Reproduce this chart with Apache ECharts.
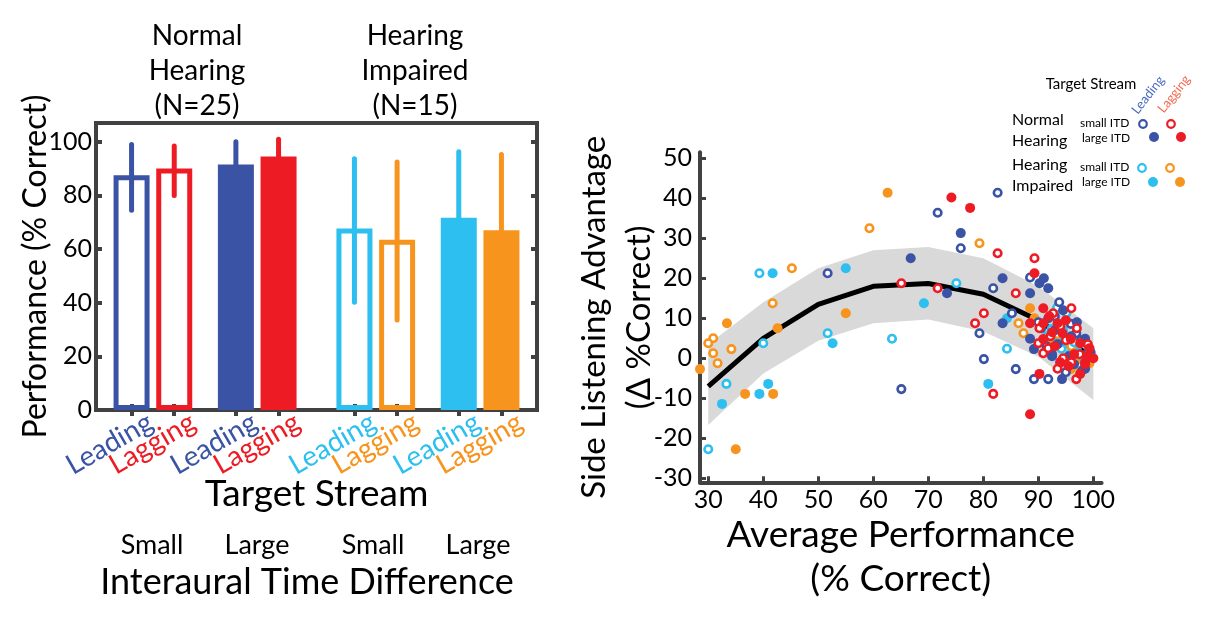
<!DOCTYPE html>
<html><head><meta charset="utf-8">
<script src="https://cdn.jsdelivr.net/npm/echarts@6/dist/echarts.min.js"></script>
<style>html,body{margin:0;padding:0;background:#fff}#c{width:1221px;height:633px}</style>
</head><body><div id="c"></div>
<script>
// ---------- Left panel data ----------
const barCategories = ['Leading','Lagging','Leading','Lagging','Leading','Lagging','Leading','Lagging'];
const barFilled = [false,false,true,true,false,false,true,true];
const barMeans   = [87.5, 90, 91.5, 94.5, 67.7, 63.5, 71.7, 67];
const barErrLow  = [74.5, 80, 83, 88, 40.2, 33.6, 47, 38.7];
const barErrHigh = [99, 98.4, 100, 100.9, 93.7, 92.5, 96.3, 95.3];
const itdLabels = ['Small','Large','Small','Large'];
const leftYTicks = [0,20,40,60,80,100];

// ---------- Right panel data ----------
const curveX    = [30,40,50,60,70,80,90,100];
const curveMean = [-7,5,13.5,18,18.7,16,9.5,0];
const bandHigh  = [3.5,14,22.5,27,27.8,25,18,7.5];
const bandLow   = [-16.7,-3.8,4.4,8.75,9.7,6.7,0.4,-10.4];
const rightXTicks = [30,40,50,60,70,80,90,100];
const rightYTicks = [-30,-20,-10,0,10,20,30,40,50];

const nhSmallLeading = [[82.6,41.4],[71.7,36.4],[75.9,27.5],[51.7,21.25],[81.8,17.5],[85.2,11.25],[79.3,6.25],[80.1,-0.2],[85.9,-2.7],[65.1,-7.7],[88.5,20.2],[89.2,-5.2],[91.8,-5.2],[95.9,8.6],[96.9,6.25],[90,9],[91.5,3],[93,10.5],[94,-1],[97.8,4.5],[98,-3],[99,1.5],[92.5,0.5],[95,-3.5],[93.8,14]];
const nhSmallLagging = [[65.1,18.75],[71.7,17.5],[82.6,26.25],[89.3,25],[85.9,16.25],[80.1,11.25],[78.5,8.75],[81.8,-8.9],[96,12.5],[93.5,-2.6],[96.9,-5.2],[90.2,7.5],[90.9,1.25],[91.8,2.5],[92.7,11.25],[90,3.75],[94,8],[95,4.5],[97.5,1],[98.5,-1],[92.2,5.5],[96,-1],[99,3.5],[94.5,0],[97,7.5]];
const nhLargeLeading = [[66.8,25],[75.9,31.3],[73.4,16.25],[83.5,20],[83.5,8.75],[88.5,16.25],[88.5,4.9],[89.2,2.3],[90.2,18.75],[91,20],[91.8,17.5],[91.8,10],[94.3,-5.2],[98.5,4.9],[98.5,-2.6],[93,7],[94.5,12],[95.5,0.5],[96,5.5],[97,9],[99.5,1.5],[92.5,1],[90.5,7.5],[96.5,-1.5],[93.5,3.5]];
const nhLargeLagging = [[74.2,40.2],[77.6,37.6],[88.5,-14],[89.3,21.25],[90.9,12.5],[88.5,8.75],[90.9,8.75],[93.5,8.75],[90.9,4.8],[94.4,6.25],[95.9,4.8],[97.6,3.75],[99.3,2.5],[100,0],[90.2,-3.9],[97.6,-3.9],[92,10.5],[93,3],[95,9.5],[96.5,1],[98.5,-1.5],[94,-1],[92.5,6.5],[99,0.5],[95.5,-2]];
const hiSmallLeading = [[39.3,21.25],[40,3.75],[33.3,-6.4],[30,-22.75],[51.7,6.25],[63.4,4.9],[75.1,18.75],[84.3,2.4],[93.4,12.6],[95.1,11.3],[92.4,7.3],[94.2,2.4],[96.5,4],[98,0.5],[91.5,5.5]];
const hiSmallLagging = [[59.3,32.5],[79.3,28.75],[45.2,22.5],[41.7,13.75],[30.9,5],[30,3.75],[30.9,1.25],[31.7,-1.25],[34.2,2.3],[86.4,8.75],[87.3,6.25],[96,3],[97.5,-2],[93.5,6],[99,0.5]];
const hiLargeLeading = [[41.7,21.25],[55,22.5],[52.6,3.75],[32.5,-11.4],[39.3,-8.9],[40.9,-6.4],[69.2,13.75],[80.9,-6.4],[84.3,10],[93.5,4.9],[95.1,3.7],[95.9,1.25],[97,2],[94.5,7],[98.5,-1]];
const hiLargeLagging = [[62.6,41.4],[28.5,-2.7],[33.4,8.75],[42.6,7.5],[55,11.25],[36.7,-8.9],[41.8,-8.9],[35,-22.75],[88.5,12.5],[89.3,10],[92.5,3.75],[96.8,2.3],[97.6,0],[95.9,-2.7],[99.3,-1.25]];

// ---------- styles ----------
const BLUE='#3a53a4', RED='#ed1c24', CYAN='#2cbfef', ORANGE='#f7941d';
const barColors=[BLUE,RED,BLUE,RED,CYAN,ORANGE,CYAN,ORANGE];
const FRAME='#414141';
const FONT='Lato';

// slot layout of category axis (bars in pairs, with gaps)
const PAD=7, PAIR=9, GROUP=13, HEAR=16, LABEL_SHIFT=4;
const slotIdx=[]; let s=PAD;
for(let i=0;i<barCategories.length;i++){ if(i>0){ s += (i%2===1)?PAIR:(i===4?HEAR:GROUP);} slotIdx.push(s); }
const nSlots=s+PAD+1;
const slotNames=[]; for(let i=0;i<nSlots;i++) slotNames.push('s'+i);
const isBarSlot={}; slotIdx.forEach(v=>isBarSlot[v]=true);
const labelAt={}; slotIdx.forEach((v,i)=>labelAt[v+LABEL_SHIFT]=i);
const rich={}; barColors.forEach((c,i)=>rich['c'+i]={color:c,fontSize:28,fontFamily:FONT});

const barData = barMeans.map((m,i)=>({
  value:[slotIdx[i], m],
  itemStyle: barFilled[i] ? {color:barColors[i], borderColor:barColors[i], borderWidth:5}
                          : {color:'rgba(0,0,0,0)', borderColor:barColors[i], borderWidth:5}
}));
const errData = barMeans.map((m,i)=>[slotIdx[i], barErrLow[i], barErrHigh[i]]);

function openSym(data,color,name){
  return {type:'scatter', name, xAxisIndex:2, yAxisIndex:2, data, symbolSize:7.5, clip:false,
    itemStyle:{color:'#fff', borderColor:color, borderWidth:2.6, opacity:1}, z:5};
}
function fillSym(data,color,name){
  return {type:'scatter', name, xAxisIndex:2, yAxisIndex:2, data, symbolSize:10, clip:false,
    itemStyle:{color:color, opacity:1}, z:5};
}

const chart = echarts.init(document.getElementById('c'), null, {renderer:'canvas'});

const txt=(x,y,text,size,opts={})=>({type:'text', x, y, rotation:opts.rotation||0, z:10,
  style:Object.assign({text, font:size+'px '+FONT, fill:opts.fill||'#000', textAlign:opts.align||'center', textVerticalAlign:'middle', lineHeight:opts.lh}, opts.style||{})});
const circ=(x,y,r,color,open)=>({type:'circle', x, y, z:10, shape:{r},
  style: open?{fill:'#fff',stroke:color,lineWidth:2.2}:{fill:color}});

const option = {
  animation:false,
  backgroundColor:'#fff',
  grid:[
    {left:96, top:123, width:441, height:287, show:true, borderColor:FRAME, borderWidth:4, backgroundColor:'rgba(0,0,0,0)', outerBoundsMode:'none'},
    {left:700, top:152.3, width:401.6, height:330, outerBoundsMode:'none'}
  ],
  xAxis:[
    {type:'category', gridIndex:0, data:slotNames, boundaryGap:true,
      axisLine:{show:false}, splitLine:{show:false},
      axisTick:{show:true, inside:true, length:6, alignWithLabel:true, interval:(idx)=>!!isBarSlot[idx], lineStyle:{color:FRAME,width:4}},
      axisLabel:{interval:0, rotate:30, margin:10, formatter:(v,idx)=>{const k=labelAt[idx]; return k==null?'':'{c'+k+'|'+barCategories[k]+'}';}, rich},
      name:'Target Stream', nameLocation:'middle', nameGap:66, nameMoveOverlap:false,
      nameTextStyle:{fontSize:37,fontFamily:FONT,color:'#000', verticalAlign:'top'}
    },
    {type:'category', gridIndex:0, position:'top', data:slotNames, boundaryGap:true,
      axisLine:{show:false}, splitLine:{show:false}, axisLabel:{show:false},
      axisTick:{show:true, inside:true, length:6, alignWithLabel:true, interval:(idx)=>!!isBarSlot[idx], lineStyle:{color:FRAME,width:4}}
    },
    {type:'value', gridIndex:1, min:28.5, max:101.5,
      axisLine:{show:true, onZero:false, lineStyle:{color:FRAME,width:4}},
      axisTick:{show:true, inside:true, length:6, customValues:rightXTicks, lineStyle:{color:FRAME,width:3}},
      axisLabel:{customValues:rightXTicks, fontSize:25, fontFamily:FONT, color:'#000', margin:5},
      splitLine:{show:false},
      name:'Average Performance\n(% Correct)', nameLocation:'middle', nameGap:31, nameMoveOverlap:false,
      nameTextStyle:{fontSize:37, fontFamily:FONT, color:'#000', lineHeight:44, verticalAlign:'top'}
    }
  ],
  yAxis:[
    {type:'value', gridIndex:0, min:0, max:107,
      axisLine:{show:false}, splitLine:{show:false},
      axisTick:{show:true, inside:true, length:6, customValues:leftYTicks, lineStyle:{color:FRAME,width:4}},
      axisLabel:{customValues:leftYTicks, fontSize:25, fontFamily:FONT, color:'#000', margin:4},
      name:'Performance (% Correct)', nameLocation:'middle', nameGap:44, nameMoveOverlap:false,
      nameTextStyle:{fontSize:32, fontFamily:FONT, color:'#000', verticalAlign:'bottom'}
    },
    {type:'value', gridIndex:0, position:'right', min:0, max:107,
      axisLine:{show:false}, splitLine:{show:false}, axisLabel:{show:false},
      axisTick:{show:true, inside:true, length:6, customValues:leftYTicks, lineStyle:{color:FRAME,width:4}}
    },
    {type:'value', gridIndex:1, min:-31, max:51.5,
      axisLine:{show:true, onZero:false, lineStyle:{color:FRAME,width:4}},
      axisTick:{show:true, inside:true, length:6, customValues:rightYTicks, lineStyle:{color:FRAME,width:3}},
      axisLabel:{customValues:rightYTicks, fontSize:25, fontFamily:FONT, color:'#000', margin:8},
      splitLine:{show:false},
      name:'Side Listening Advantage\n(Δ %Correct)', nameLocation:'middle', nameGap:38, nameMoveOverlap:false,
      nameTextStyle:{fontSize:33, fontFamily:FONT, color:'#000', lineHeight:45, verticalAlign:'bottom'}
    }
  ],
  graphic:[
    txt(197,71,'Normal\nHearing\n(N=25)',28,{lh:35}),
    txt(415,71,'Hearing\nImpaired\n(N=15)',28,{lh:35}),
    txt(152,545,itdLabels[0],27), txt(257,545,itdLabels[1],27),
    txt(373,545,itdLabels[2],27), txt(478,545,itdLabels[3],27),
    txt(307,582,'Interaural Time Difference',36),
    // legend
    txt(1091,84,'Target Stream',15),
    txt(1148,95,'Leading',13,{fill:'#4a6bc0',rotation:52*Math.PI/180}),
    txt(1174,94,'Lagging',13,{fill:'#f26a4f',rotation:52*Math.PI/180}),
    txt(1012,120,'Normal',16,{align:'left'}), txt(1012,141,'Hearing',16,{align:'left'}),
    txt(1080,123,'small ITD',12,{align:'left'}), txt(1082,138,'large ITD',12,{align:'left'}),
    circ(1143,124,3.8,BLUE,true), circ(1171,124,3.8,RED,true),
    circ(1154,137,5,BLUE,false), circ(1181,137,5,RED,false),
    txt(1012,165,'Hearing',16,{align:'left'}), txt(1012,186,'Impaired',16,{align:'left'}),
    txt(1080,167,'small ITD',12,{align:'left'}), txt(1082,182,'large ITD',12,{align:'left'}),
    circ(1142,168,3.8,CYAN,true), circ(1170,168,3.8,ORANGE,true),
    circ(1153,182,5,CYAN,false), circ(1180,182,5,ORANGE,false)
  ],
  series:[
    {type:'bar', xAxisIndex:0, yAxisIndex:0, data:barData, barWidth:36, z:2},
    {type:'custom', xAxisIndex:0, yAxisIndex:0, data:errData, encode:{x:0,y:[1,2]}, z:3,
      renderItem:(params,api)=>{
        const i=params.dataIndex;
        const p1=api.coord([api.value(0),api.value(1)]);
        const p2=api.coord([api.value(0),api.value(2)]);
        return {type:'line', shape:{x1:p1[0],y1:p1[1],x2:p2[0],y2:p2[1]}, style:{stroke:barColors[i], lineWidth:5, lineCap:'round'}};
      }},
    {type:'custom', xAxisIndex:2, yAxisIndex:2, data:[[curveX[0], bandLow[0]]], encode:{x:0,y:1}, z:1, silent:true,
      renderItem:(params,api)=>{
        const pts=[];
        curveX.forEach((x,i)=>pts.push(api.coord([x,bandHigh[i]])));
        for(let i=curveX.length-1;i>=0;i--) pts.push(api.coord([curveX[i],bandLow[i]]));
        return {type:'polygon', shape:{points:pts}, style:{fill:'#d9d9d9'}};
      }},
    {type:'line', xAxisIndex:2, yAxisIndex:2, data:curveX.map((x,i)=>[x,curveMean[i]]), symbol:'none', z:3,
      lineStyle:{color:'#000', width:5}},
    fillSym(hiLargeLagging, ORANGE, 'HI large lagging'),
    fillSym(hiLargeLeading, CYAN, 'HI large leading'),
    openSym(hiSmallLagging, ORANGE, 'HI small lagging'),
    openSym(hiSmallLeading, CYAN, 'HI small leading'),
    openSym(nhSmallLeading, BLUE, 'NH small leading'),
    fillSym(nhLargeLeading, BLUE, 'NH large leading'),
    openSym(nhSmallLagging, RED, 'NH small lagging'),
    fillSym(nhLargeLagging, RED, 'NH large lagging')
  ]
};
chart.setOption(option);
</script></body></html>
